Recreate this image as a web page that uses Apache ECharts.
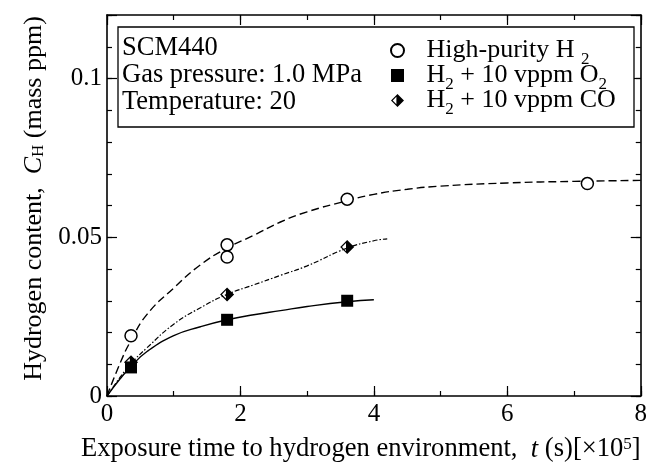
<!DOCTYPE html>
<html>
<head>
<meta charset="utf-8">
<script src="https://cdn.jsdelivr.net/npm/echarts@6/dist/echarts.min.js"></script>
<style>html,body{margin:0;padding:0;background:#fff;}#c{width:650px;height:468px;}</style>
</head>
<body>
<div id="c"></div>
<script>
// ---- data ----
const seriesNames = ['High-purity H2', 'H2 + 10 vppm O2', 'H2 + 10 vppm CO'];
const highT = [0.36, 1.8, 1.8, 3.6, 7.2];
const highC = [0.019, 0.0476, 0.0438, 0.062, 0.0669];
const o2T = [0.36, 1.8, 3.6];
const o2C = [0.009, 0.024, 0.030];
const coT = [0.36, 1.8, 3.6];
const coC = [0.0106, 0.032, 0.0469];
// fitted curves
const highFitT = [0, 0.2, 0.36, 0.6, 1.0, 1.4, 1.8, 2.2, 2.6, 3.0, 3.6, 4.0, 4.5, 5.0, 6.0, 7.0, 8.0];
const highFitC = [0, 0.0105, 0.0175, 0.0257, 0.0340, 0.0413, 0.0466, 0.0506, 0.0548, 0.0580, 0.0615, 0.0635, 0.0651, 0.0661, 0.0671, 0.0676, 0.0679];
const o2FitT = [0, 0.2, 0.36, 0.6, 1.0, 1.4, 1.8, 2.2, 2.6, 3.0, 3.6, 4.0];
const o2FitC = [0, 0.0055, 0.0093, 0.0140, 0.0190, 0.0218, 0.0240, 0.0256, 0.0269, 0.0282, 0.0297, 0.0303];
const coFitT = [0, 0.2, 0.36, 0.6, 1.0, 1.4, 1.8, 2.2, 2.6, 3.0, 3.6, 4.0, 4.2];
const coFitC = [0, 0.0060, 0.0102, 0.0152, 0.0226, 0.0278, 0.0320, 0.0350, 0.0380, 0.0410, 0.0466, 0.0489, 0.0495];
const xTickLabels = [0, 2, 4, 6, 8];
const yTickLabels = [0, 0.05, 0.1];
const infoLines = ['SCM440', 'Gas pressure: 1.0 MPa', 'Temperature: 20'];

const zip = (a, b) => a.map((v, i) => [v, b[i]]);
const FONT = 'Liberation Serif, Times New Roman, serif';
const halfDiamond = 'path://M10,0 L20,10 L10,20 Z M10,0 L0,10 L10,20 Z M8.3,4.2 L8.3,15.8 L2.6,10 Z';
const squareIcon = 'path://M0,0 L10,0 L10,10 L0,10 Z';

function axisX(pos, interval, len, showLabel, showLine) {
  return {
    type: 'value', position: pos, min: 0, max: 8, interval: interval,
    axisLine: { show: showLine, onZero: false, lineStyle: { color: '#000', width: 1.6 } },
    axisTick: { show: true, inside: true, length: len, lineStyle: { color: '#000', width: 1.2 } },
    axisLabel: {
      show: showLabel, margin: 6, color: '#000', fontFamily: FONT, fontSize: 25,
      formatter: v => (xTickLabels.indexOf(v) >= 0 ? String(v) : '')
    },
    splitLine: { show: false }
  };
}
function axisY(pos, interval, len, showLabel, showLine) {
  return {
    type: 'value', position: pos, min: 0, max: 0.12, interval: interval,
    axisLine: { show: showLine, onZero: false, lineStyle: { color: '#000', width: 1.6 } },
    axisTick: { show: true, inside: true, length: len, lineStyle: { color: '#000', width: 1.2 } },
    axisLabel: {
      show: showLabel, margin: 5, color: '#000', fontFamily: FONT, fontSize: 25,
      formatter: v => {
        const hit = yTickLabels.find(t => Math.abs(t - v) < 1e-9);
        return hit === undefined ? '' : String(hit);
      }
    },
    splitLine: { show: false }
  };
}

const xMain = axisX('bottom', 2, 10, true, true);
xMain.name = 'Exposure time to hydrogen environment,  {i|t} (s)[×10{sup|5}]';
xMain.nameLocation = 'middle';
xMain.nameGap = 40;
xMain.nameTextStyle = {
  color: '#000', fontFamily: FONT, fontSize: 26.6, padding: [0, 26, 0, 0],
  rich: {
    i: { fontFamily: FONT, fontSize: 26.6, fontStyle: 'italic', color: '#000' },
    sup: { fontFamily: FONT, fontSize: 17, color: '#000', verticalAlign: 'top', lineHeight: 20 }
  }
};
const yMain = axisY('left', 0.05, 10, true, true);
yMain.name = 'Hydrogen content,  {i|C}{sub|H} (mass ppm)';
yMain.nameLocation = 'middle';
yMain.nameGap = 58;
yMain.nameTextStyle = {
  color: '#000', fontFamily: FONT, fontSize: 26, padding: [0, 0, 0, 14],
  rich: {
    i: { fontFamily: FONT, fontSize: 26, fontStyle: 'italic', color: '#000' },
    sub: { fontFamily: FONT, fontSize: 17, color: '#000', padding: [10, 0, 0, 0], lineHeight: 10 }
  }
};

const legendRich = {
  n: { fontFamily: FONT, fontSize: 26, color: '#000', lineHeight: 27 },
  s: { fontFamily: FONT, fontSize: 17, color: '#000', lineHeight: 10, padding: [18, 0, 0, 0] }
};
const legendText = {};
legendText[seriesNames[0]] = '{n|High-purity H }{s|2}';
legendText[seriesNames[1]] = '{n|H}{s|2}{n| + 10 vppm O}{s|2}';
legendText[seriesNames[2]] = '{n|H}{s|2}{n| + 10 vppm CO}';

const option = {
  backgroundColor: '#fff',
  animation: false,
  grid: { left: 107, right: 7, top: 15, bottom: 69, containLabel: false },
  xAxis: [xMain, axisX('bottom', 1, 5, false, false), axisX('top', 2, 10, false, true), axisX('top', 1, 5, false, false)],
  yAxis: [yMain, axisY('left', 0.01, 5, false, false), axisY('right', 0.05, 10, false, true), axisY('right', 0.01, 5, false, false)],
  legend: {
    data: [
      { name: seriesNames[0], icon: 'circle' },
      { name: seriesNames[1], icon: squareIcon },
      { name: seriesNames[2], icon: halfDiamond }
    ],
    orient: 'vertical',
    left: 385, top: 28,
    z: 20,
    itemWidth: 48, itemHeight: 13, itemGap: -10,
    selectedMode: false,
    formatter: name => legendText[name],
    textStyle: { rich: legendRich, fontFamily: FONT, fontSize: 26, color: '#000' }
  },
  graphic: [
    { type: 'rect', z: 1, shape: { x: 118, y: 27, width: 516, height: 100 },
      style: { fill: '#fff', stroke: '#000', lineWidth: 1.3 } }
  ].concat(infoLines.map((t, i) => ({
    type: 'text', z: 21, left: 122, top: 35 + i * 27,
    style: { text: t, font: '26.5px ' + FONT, fill: '#000' }
  }))),
  series: [
    { type: 'line', name: 'fitHigh', data: zip(highFitT, highFitC), smooth: 0.5, showSymbol: false, silent: true,
      lineStyle: { color: '#000', width: 1.4, type: [8, 4] }, z: 2 },
    { type: 'line', name: 'fitO2', data: zip(o2FitT, o2FitC), smooth: 0.5, showSymbol: false, silent: true,
      lineStyle: { color: '#000', width: 1.4, type: 'solid' }, z: 2 },
    { type: 'line', name: 'fitCO', data: zip(coFitT, coFitC), smooth: 0.5, showSymbol: false, silent: true,
      lineStyle: { color: '#000', width: 1.2, type: [5, 2, 1.5, 2] }, z: 2 },
    { type: 'scatter', name: seriesNames[0], data: zip(highT, highC), symbol: 'circle', symbolSize: 12,
      itemStyle: { color: '#fff', borderColor: '#000', borderWidth: 1.5, opacity: 1 }, z: 5 },
    { type: 'scatter', name: seriesNames[1], data: zip(o2T, o2C), symbol: 'rect', symbolSize: 12,
      itemStyle: { color: '#000', opacity: 1 }, z: 5 },
    { type: 'scatter', name: seriesNames[2], data: zip(coT, coC), symbol: halfDiamond, symbolSize: 14,
      itemStyle: { color: '#000', opacity: 1 }, z: 5 }
  ]
};
const chart = echarts.init(document.getElementById('c'), null, { renderer: 'canvas' });
chart.setOption(option);
</script>
</body>
</html>
